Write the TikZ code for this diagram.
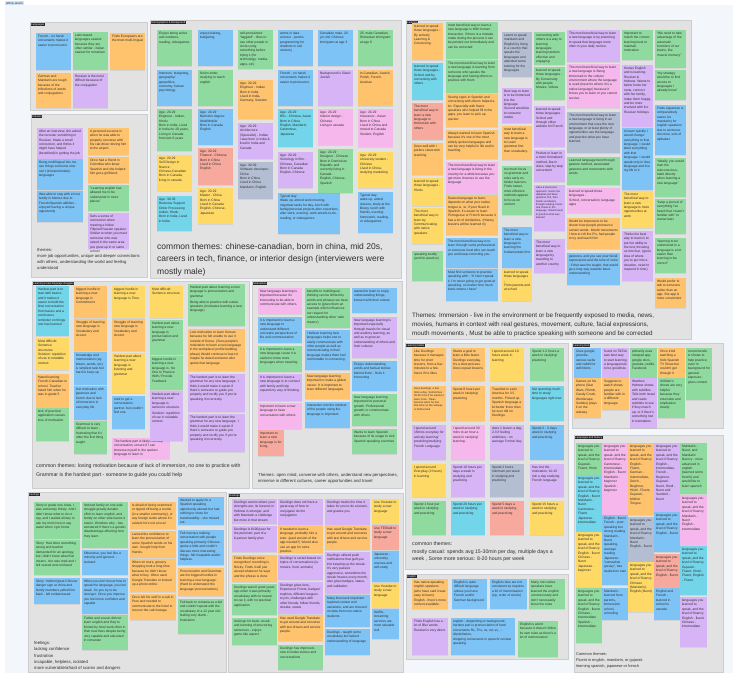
\documentclass[tikz,border=0pt]{standalone}
\usepackage{fontspec}
\setmainfont{Liberation Sans}
\usetikzlibrary{shadows}

\definecolor{nY}{HTML}{FFD966}
\definecolor{nO}{HTML}{FFC36E}
\definecolor{nG}{HTML}{8FDB9F}
\definecolor{nB}{HTML}{7EC3F6}
\definecolor{nP}{HTML}{D6B4F6}
\definecolor{nK}{HTML}{F6B8EC}
\definecolor{nC}{HTML}{72D5EA}
\definecolor{nS}{HTML}{F8A99D}
\definecolor{nR}{HTML}{B4BED3}
\definecolor{frameBG}{HTML}{E2E2E2}
\definecolor{frameLN}{HTML}{CDCDCD}
\definecolor{canvasBG}{HTML}{F3F6FA}
\definecolor{pillBG}{HTML}{CFE4FA}
\definecolor{inkC}{HTML}{2E2E2E}

\tikzset{
  sticky/.style={draw=none, inner sep=2pt, outer sep=0pt,
    font=\fontsize{3.3}{4.4}\selectfont, text=inkC,
    drop shadow={shadow xshift=0.2pt, shadow yshift=-0.5pt, opacity=0.15}},
  framebox/.style={fill=frameBG, draw=frameLN, line width=0.4pt, inner sep=0pt, outer sep=0pt},
  tagbox/.style={fill=black!85, text=white, font=\fontsize{2.6}{3}\selectfont, inner sep=0.6pt, anchor=north west},
  theme/.style={inner sep=0pt, align=left, text=inkC, anchor=north west},
}

% sticky note: name, x, y, width, height, colour, text
\newcommand\stk[7]{\node[sticky, fill=#6, minimum width=#4pt, minimum height=#5pt, anchor=north west] (#1) at (#2,#3)
  {\parbox[t][\dimexpr#5pt-4pt\relax][t]{\dimexpr#4pt-4pt\relax}{\raggedright #7}};}
% frame: name, x, y, width, height, tag
\newcommand\frm[6]{\node[framebox, minimum width=#4pt, minimum height=#5pt, anchor=north west] (#1) at (#2,#3) {};
  \node[tagbox] (#1-tag) at ([xshift=0.6pt,yshift=-0.6pt]#1.north west) {#6};}

\begin{document}
\begin{tikzpicture}[x=1pt,y=-1pt]
\useasboundingbox (0,0) rectangle (738,678);
\fill[white] (0,0) rectangle (738,678);
\fill[canvasBG] (5,5) rectangle (733,673);
\node[fill=pillBG, text=inkC, font=\fontsize{2.8}{3}\selectfont, inner sep=0.8pt, anchor=north west] (board) at (5,1) {affinity sketch};

% ---------------- frames ----------------
\frm{fLang}{30}{22}{117}{88}{Languages}
\frm{fCar}{31}{114}{116}{163}{Careers}
\frm{fDemo}{150}{20}{251}{258}{Demographics \& Background}
\frm{fLearn}{406}{20}{285}{319}{Learning}
\frm{fStr}{32}{281}{217}{207}{Learning a new language struggles}
\frm{fMot}{252}{281}{150}{207}{Motivations}
\frm{fTime}{405}{343}{163}{226}{Learning habits}
\frm{fEng}{406}{574}{162}{85}{English}
\frm{fTool}{572}{343}{151}{85}{Learning tools}
\frm{fFlu}{574}{435}{149}{237}{Languages and fluency}
\frm{fFeel}{28}{492}{198}{180}{Feelings}
\frm{fDuo}{228}{493}{175}{179}{Duolingo}

% ---------------- Languages ----------------
\stk{a1}{36}{33}{35}{37}{nB}{French - no harsh consonants makes it easier to pronounce}
\stk{a2}{73}{32}{35}{38}{nG}{Latin-based languages easiest because they are often similar - Italian easiest for romanian}
\stk{a3}{110}{33}{35}{37}{nO}{Finds Europeans are the most multi-lingual}
\stk{a4}{36}{73}{35}{35}{nO}{German and Mandarin are tough because of the inflections of words and conjugations}
\stk{a5}{73}{73}{35}{35}{nP}{Russian is the most difficult because of the conjugation}

% ---------------- Careers ----------------
\stk{b1}{37}{128}{46}{31}{nP}{After an interview, she asked the recruiter something in Russian. Made a small connection, and thinks it might have helped (benefited) in getting the job}
\stk{b2}{37}{159}{46}{31}{nB}{Being multilingual lets me see things someone else can't (interpret/relate) languages}
\stk{b3}{37}{191}{46}{31}{nB}{Was able to stay with a host family in Mexico due to French/Spanish abilities - enjoyed having a unique opportunity}
\stk{b4}{88}{128}{41}{27}{nO}{A personal success is when he was able to properly converse with his cab driver driving him to the airport.}
\stk{b5}{88}{157}{41}{26}{nO}{Once had a friend in Colombia who knew Spanish and she helped him get a girlfriend.}
\stk{b6}{88}{185}{41}{26}{nG}{``Learning english has allowed me to be understood in more places''}
\stk{b7}{88}{213}{41}{36}{nP}{Gets a sense of connection when meeting a fellow Filipino/Russian speaker. Similar to when you meet someone who was raised in the same area you grew up in or same school}
\node[theme, font=\fontsize{4.2}{6}\selectfont] (bTh) at (37,248) {themes:\\more job opportunities, unique and deeper connections\\with others, understanding the world and feeling\\understood};

% ---------------- Demographics & Background ----------------
\stk{c11}{157}{30}{35}{36}{nG}{Enjoys being active and outdoors, reading, videogames}
\stk{c12}{157}{70}{35}{36}{nB}{Interests: budgeting, geography/ geopolitics, economy, human psychology}
\stk{c13}{157}{109}{35}{42}{nG}{Age: 20-29\\Engineer - Indian, Hindu\\Born in India, Lived in India for 20 years, Living in Canada from last 8 years}
\stk{c14}{157}{155}{35}{36}{nY}{Age: 20-29\\Self Design in finance\\Chinese-Canadian\\Born in Canada, living in canada}
\stk{c15}{157}{196}{35}{35}{nC}{Age: 30-39\\Business Support Order Processing\\Indian, Hindu\\Born in India, Lived in India}
\stk{c21}{198}{30}{35}{36}{nB}{enjoys baking, budgeting,}
\stk{c22}{198}{70}{35}{36}{nG}{fiction writer, studying to teach english}
\stk{c23}{198}{109}{35}{36}{nB}{Age: 20-29\\Bachelor degree: Web/Mobile\\Born in Canada\\English}
\stk{c24}{198}{148}{35}{37}{nS}{Age: 20-29\\Finance - Chinese\\Born in China\\Lived in China\\English}
\stk{c25}{198}{188}{35}{36}{nY}{Age: 20-29\\Master - China\\Born in China\\Lived in Canada\\English, Chinese, Japanese}
\stk{c31}{238}{30}{35}{39}{nG}{self-proclaimed ``laggard'' - likes to see other people in circle using something before trying it (for technology: media, apps, etc)}
\stk{c32}{238}{80}{35}{39}{nO}{Age: 20-29\\Engineer - Indian\\Born in India\\Lived in India, Germany, Sweden}
\stk{c33}{238}{123}{35}{36}{nP}{Age: 20-29\\Architecture (Specialist) - Indian\\I was born in India \& lived in India and Canada}
\stk{c34}{238}{162}{35}{37}{nR}{Age: 30-39\\Software developer - China\\Born in China\\Lived in China\\Mandarin, English}
\stk{c41}{278}{30}{35}{36}{nB}{works in data science - (works programming for chatbots in call centers)}
\stk{c42}{278}{70}{35}{36}{nB}{French - no harsh consonants makes it easier to pronounce}
\stk{c43}{278}{109}{35}{38}{nC}{Age: 20-29\\BSc - Chinese, Asian\\Born in China\\English, Mandarin, Cantonese, Japanese}
\stk{c44}{278}{152}{35}{36}{nP}{Age: 20-29\\Sociology in film - Chinese, Canadian\\Born in Canada\\English, Chinese}
\stk{c45}{278}{193}{62}{41}{nB}{Typical day:\\Wake up, attend work meeting, negotiate tasks for day, lunch with family/personal projects after coworkers after work, evening: work emails to-do, reading, or videogames}
\stk{c51}{318}{30}{35}{36}{nB}{Canadian male, 20 y/o old, Chinese immigrant at age 3}
\stk{c52}{318}{70}{35}{36}{nP}{Background is Slavic Jewish}
\stk{c53}{318}{109}{35}{36}{nK}{Age: 20-29\\Interior design - Chinese\\Living in canada}
\stk{c54}{318}{149}{35}{44}{nG}{Age: 20-29\\Designer - Chinese\\Born in Dominican Republic and currently living in Canada.\\English, Chinese, Spanish}
\stk{c61}{358}{30}{35}{36}{nG}{25, male Canadian, Romanian immigrant at age 6}
\stk{c62}{358}{70}{35}{36}{nO}{In Canadian, Jewish, Polish, French, Austrian}
\stk{c63}{358}{109}{35}{38}{nK}{Age: 20-29\\Insurance - Asian\\Born in China\\Lived in China and moved to Canada\\Student, English}
\stk{c64}{358}{152}{35}{36}{nY}{Age: 20-29\\University student - Chinese\\Lived in China, studying marketing}
\stk{c65}{358}{192}{35}{41}{nB}{Typical day:\\wake up, attend classes, study at the library, lunch with friends, evening: homework, reading, or videogames}
\node[theme, font=\fontsize{8.5}{12.6}\selectfont] (cTh) at (157,243) {common themes: chinese-canadian, born in china, mid 20s,\\careers in tech, finance, or interior design (interviewers were\\mostly male)};

% ---------------- Learning ----------------
\stk{d11}{412}{23}{31}{37}{nO}{learned to speak those languages -\\By actively Learning \& Conversing.}
\stk{d12}{412}{63}{31}{37}{nC}{learned to speak those languages -\\School and by conversing with others}
\stk{d13}{412}{103}{31}{37}{nS}{The most beneficial way to learn a new language is immersion with others}
\stk{d14}{412}{143}{31}{32}{nO}{Does well with / prefers classroom teaching}
\stk{d15}{412}{178}{31}{28}{nY}{learned to speak those languages -\\Hindu}
\stk{d16}{412}{208}{31}{36}{nY}{The most beneficial way to learn by Communicating with native speakers.}
\stk{d17}{412}{251}{31}{30}{nG}{speaking buddy (and for practice)}
\stk{d21}{446}{22}{52}{37}{nG}{most beneficial way to learn a new language is With human interaction, if there is a mistake made during the process it can be pointed out immediately and can be corrected}
\stk{d22}{446}{60}{52}{33}{nG}{The most beneficial way to learn a new language is learning from someone who speaks the language and having others to practice with them}
\stk{d23}{446}{94}{52}{33}{nO}{Seeing signs in Spanish and conversing with others helped a lot. Especially with fluent speakers who helped fill in the gaps, you learn to pick up quicker.}
\stk{d24}{446}{130}{52}{29}{nO}{Always wanted to learn Spanish because it's one of the most widely spoken languages and can be very helpful in life and in traveling}
\stk{d25}{446}{162}{52}{32}{nK}{The most beneficial way to learn a new language is living in the country for a while because you get more chances to use the language}
\stk{d26}{446}{195}{52}{40}{nO}{Easiest language to learn, depends on what your native tongue is. Ie, if your fluent in Spanish, it's easier to learn Portuguese or French because it has a lot of similarities. (History lessons will be learned in)}
\stk{d27}{446}{238}{52}{30}{nB}{The most beneficial way is to learn through some professional or someone local who can teach you and keep correcting you.}
\stk{d28}{446}{269}{52}{32}{nB}{Must find someone to practice speaking with - ``If I don't speak it, I'm never going to get good at speaking, no matter how much book-smarts I have''}
\stk{d31}{502}{32}{30}{45}{nR}{Learnt to speak mandarin and English by living in a country that speaks the languages and attended some tutoring for the languages}
\stk{d32}{502}{88}{30}{35}{nP}{Best way to learn is to be immersed into the language. Second would be to consume media}
\stk{d33}{502}{126}{30}{34}{nO}{most beneficial way to learn a new language is to Learn grammar first then vocabulary.}
\stk{d34}{502}{166}{30}{49}{nG}{too much focus on grammar and rules early on hinder learners. Finds newer, more effective methods appear to focus on content}
\stk{d35}{502}{227}{30}{41}{nB}{The most beneficial way to learn a new language is learning the fundamentals first}
\stk{d36}{502}{269}{30}{32}{nY}{learned to speak those languages -\\From parents and at school}
\stk{d41}{534}{32}{31}{33}{nG}{connecting with others is a way to learning languages; learning tandem effective and engaging}
\stk{d42}{534}{67}{31}{33}{nG}{learned to speak those languages -\\By Conversing with people, Movies, Videos}
\stk{d43}{534}{106}{31}{41}{nP}{learned to speak those languages -\\School and through video website for French}
\stk{d44}{534}{150}{31}{32}{nP}{Prefers to learn in a more formalized method, like in class, step by step convenient}
\stk{d45}{534}{185}{31}{46}{nP}{\fontsize{2.6}{3.3}\selectfont Likes a structured approach: learns the alphabet and basic grammar first, then builds vocabulary through reading, music and shows in the language. Would travel to practice what was learned.}
\stk{d46}{534}{239}{31}{34}{nP}{The most beneficial way to learn a new language by travelling to another country}
\stk{d51}{567}{30}{53}{32}{nP}{The most beneficial way to learn a new language is by practicing to speak that language more often in your daily routine.}
\stk{d52}{567}{64}{53}{44}{nK}{The most beneficial way to learn a new language is Being immersed in the culture/ environment where the language is used (travel to where it is a native language) because it forces you to learn or you cannot survive}
\stk{d53}{567}{112}{53}{41}{nR}{The most beneficial way to learn a new language is living in an environment that uses the new language, or at least plenty of opportunities use the language and practice what you have learned.}
\stk{d54}{567}{157}{53}{28}{nG}{Learned language best through gesture method, associated gestures and movements with words}
\stk{d55}{567}{188}{53}{25}{nK}{learned to speak those languages -\\School, conversation, language apps}
\stk{d56}{567}{218}{53}{31}{nO}{Would be impressive to be shown how people pronounce certain words. Mouth movements / how to roll the R's, had people to try and teach him}
\stk{d57}{567}{253}{53}{32}{nB}{gestures, and you see your facial expressions and the tone of voice - if that was the taught, that would go a long way towards basic understanding}
\stk{d61}{622}{30}{31}{30}{nG}{Important to match the correct learning level to maintain motivation}
\stk{d62}{622}{65}{31}{62}{nP}{Knows English and is learning Russian \& Hebrew. Wants to better know her roots, connect with her family, make them happy, and be more involved with the Russian holidays}
\stk{d63}{622}{128}{31}{62}{nB}{to learn quickly I would change everything to that language. I would label everything with that language. I would speak only in that language and live my life in it.}
\stk{d64}{622}{191}{31}{37}{nY}{The most beneficial way to learn a new language is more opportunities at work}
\stk{d65}{622}{231}{31}{50}{nP}{Thinks the best way to learn is to put her ability to the test, throwing us into fear. (gives idea of where you're put into a situation, need to respond in time)}
\stk{d71}{655}{30}{31}{38}{nG}{``We need to take advantage of the automatic functions of our brains, like muscle memory''}
\stk{d72}{655}{70}{31}{30}{nG}{``my strategy would be to find access to languages I already know''}
\stk{d73}{655}{105}{31}{50}{nB}{Finds Japanese is comparatively easier (vs mandarin) for english speakers due to sentence structure, sort-of alphabet}
\stk{d74}{655}{158}{31}{39}{nG}{``Ideally, you would train the subconscious; habit directly when learning a new language''}
\stk{d75}{655}{199}{31}{35}{nG}{``keep a journal of everything I've heard that I wasn't familiar with'' to review later}
\stk{d76}{655}{238}{31}{35}{nG}{``learning to be understood in a language is a lot easier than learning to be correct''}
\stk{d77}{655}{278}{31}{30}{nO}{Would prefer to talk to someone rather than an app. But app is more convenient}
\node[theme, font=\fontsize{6.3}{9.2}\selectfont] (dTh) at (412,312.5) {Themes: Immersion - live in the environment or be frequently exposed to media, news,\\movies, humans in context with real gestures, movement, culture, facial expressions,\\mouth movements , Must be able to practice speaking with someone and be corrected};

% ---------------- Struggles ----------------
\stk{e11}{36}{286}{33}{50}{nC}{Hardest part is to start with basics and it makes it easier to build the final conversation from basics and a continuous reminder on things one has learned}
\stk{e12}{36}{338}{33}{32}{nY}{Most difficult: Sentence structures. Solution: repetition of use in relatable context.}
\stk{e13}{36}{374}{33}{34}{nO}{Hated learning French-Canadian in school. Teacher hated him when he was in grade 5}
\stk{e14}{36}{408}{33}{33}{nG}{lack of practical application causes loss of motivation}
\stk{e21}{74}{286}{33}{32}{nO}{biggest hurdle in learning a new language is Commitment.}
\stk{e22}{74}{319}{33}{32}{nO}{Struggle of learning new language is Vocabulary and Accent.}
\stk{e23}{74}{352}{33}{33}{nB}{Knowledge and memorization (eg. letters, words, etc) is simplest task but hard to keep up}
\stk{e24}{74}{386}{33}{34}{nB}{lost motivation with japanese and french due to lack of immersion in everyday life}
\stk{e25}{74}{421}{33}{33}{nG}{Grammar is very difficult to learn - frustrating that it's often the first thing taught}
\stk{e31}{112}{286}{33}{32}{nY}{biggest hurdle in learning a new language is Time.}
\stk{e32}{112}{319}{33}{32}{nO}{Struggle of learning new language is Vocabulary and Accent.}
\stk{e33}{112}{353}{33}{40}{nY}{Hardest part about learning a new language is listening and grammar}
\stk{e34}{112}{396}{33}{33}{nB}{tried to get a conversation partner, but couldn't find one}
\stk{e35}{112}{438}{58}{21}{nK}{The hardest part is likely normally conversation, unsure if I can immerse myself in the spoken language to learn in}
\stk{e41}{150}{286}{33}{32}{nY}{Most difficult: Sentence structure.}
\stk{e42}{150}{320}{33}{35}{nG}{Hardest part about learning a new language is pronunciation and grammar}
\stk{e43}{150}{356}{33}{34}{nG}{biggest hurdle in learning a new language is: No One to Practice With / Provide Feedback}
\stk{e44}{150}{391}{33}{50}{nP}{Hardest part about learning a new language is sentence structure.\\[1pt]Solution: repetition of use in relatable context.}
\stk{e51}{188}{284}{57}{42}{nG}{Hardest part about learning a new language is pronunciation and grammar\\[1.5pt]Being able to practice with native speakers (motivates learning a new language)}
\stk{e52}{188}{329}{57}{42}{nO}{Lost motivation to learn Korean because he felt unable to use it outside of Korea. (Sees people's motivation to learn a new language in the workplace/ profile building phase) Would continue to learn it maybe he dated someone who spoke that language}
\stk{e53}{188}{374}{57}{38}{nP}{The hardest part is to learn the grammar for any new language. I think it would make it easier if there's someone to guide you properly and rectify you if you're speaking it incorrectly.}
\stk{e54}{188}{414}{57}{38}{nP}{The hardest part is to learn the grammar for any new language. I think it would make it easier if there's someone to guide you properly and rectify you if you're speaking it incorrectly.}
\node[theme, font=\fontsize{5.2}{8.8}\selectfont] (eTh) at (36,463.5) {common themes: losing motivation because of lack of immersion, no one to practice with\\Grammar is the hardest part - someone to guide you could help};

% ---------------- Motivations ----------------
\stk{f11}{258}{288}{44}{26}{nK}{New language learning is important because it's interesting to be able to communicate with others.}
\stk{f12}{258}{317}{44}{26}{nB}{It is important to learn a new language to understand different concepts/ perspectives of life and communication}
\stk{f13}{258}{346}{44}{26}{nG}{It is important to learn a new language cause it is useful to know more languages when traveling}
\stk{f14}{258}{374}{44}{27}{nP}{It is important to learn a new language is to connect with family and help expand my way of thinking}
\stk{f15}{258}{403}{44}{26}{nK}{Important to learn a new language to have conversation with others}
\stk{f16}{258}{430}{26}{26}{nS}{Important to learn a new language is for living.}
\stk{f21}{305}{288}{45}{40}{nG}{benefits to multilingual - thinking can be limited by words and phrases we have access to (gives them an example which influences our respect for understanding other `safe means')}
\stk{f22}{305}{330}{45}{40}{nB}{I believe learning new languages helps one to easily communicate with other people as well as communicating in their language makes them feel comfortable in connecting.}
\stk{f23}{305}{373}{45}{26}{nO}{New language learning important to make a global career. It is important to learn different languages.}
\stk{f24}{305}{402}{45}{26}{nB}{Interaction into the mindset of the people using the language is important}
\stk{f31}{352}{288}{45}{25}{nB}{wanted to learn to enjoy understanding things, interact with their culture}
\stk{f32}{352}{317}{45}{41}{nP}{New language learning is important especially through travels for visual and auditory learning, as well as to grow an understanding of others and their cultures}
\stk{f33}{352}{361}{45}{30}{nB}{Enjoys understanding words and factual stories behind them - finds it interesting}
\stk{f34}{352}{394}{45}{32}{nG}{New language learning important for personal growth. Professional growth, to communicate with others}
\stk{f35}{352}{429}{45}{25}{nG}{Wants to learn Spanish because of its usage to visit Spanish speaking countries}
\node[theme, font=\fontsize{4.3}{6.2}\selectfont] (fTh) at (258,473) {Themes: open mind, converse with others, understand new perspectives,\\immerse in different cultures, career opportunities and travel};

% ---------------- Learning habits ----------------
\stk{g11}{412}{348}{34}{33}{nO}{Like Duolingo because it manages time for short lessons, from a few minutes to a few hours if he likes}
\stk{g12}{412}{386}{34}{35}{nO}{\fontsize{2.7}{3.4}\selectfont Uses duolingo, a few mins a day. Sometimes 30-60 mins if he wants to learn more. Takes lessons when he has free time on the subway or before bed}
\stk{g13}{412}{425}{34}{35}{nP}{I spend around 15mins everyday for actively learning/ practicing/studying French Language}
\stk{g14}{412}{464}{34}{33}{nY}{I spend around Everyday (2 hours) in learning}
\stk{g15}{412}{501}{34}{34}{nG}{Spend 1 hour per week in studying and practicing}
\stk{g21}{451}{348}{34}{33}{nO}{Wants a goal to learn a little faster. Duolingo everyday. It's a slow process. Does repeat lessons}
\stk{g22}{451}{386}{34}{35}{nO}{Spend 8 hours per week in studying/ practicing}
\stk{g23}{451}{425}{34}{35}{nK}{I spend around 30 mins to an hour a week in studying/ learning.}
\stk{g24}{451}{464}{34}{33}{nP}{Spend 10 hours per days a week in studying and practicing}
\stk{g25}{451}{501}{34}{34}{nC}{Spend 20 hours per week in studying and practicing}
\stk{g31}{490}{348}{34}{33}{nY}{I spend around 10 hours week in learning}
\stk{g32}{490}{386}{34}{35}{nO}{Travelled in Latin America for 3.5 months. Picked up Spanish language a lot better there than he ever did on Duolingo.}
\stk{g33}{490}{425}{34}{35}{nP}{does 1 lesson a day, 2-3 if feeling ambitious - on average 5 mins/ day}
\stk{g34}{490}{464}{34}{33}{nR}{Spend 2 hours minimum per week in studying and practicing}
\stk{g35}{490}{501}{34}{34}{nS}{Spend 5 days a week in studying and practicing}
\stk{g41}{530}{348}{34}{33}{nG}{Spend 1-2 hours a week in studying/ practicing}
\stk{g42}{530}{386}{34}{35}{nC}{Not spending much time to study languages right now}
\stk{g43}{530}{425}{34}{35}{nB}{Spend 2 - 3 days week in studying and practicing}
\stk{g44}{530}{464}{34}{33}{nP}{Has lost the motivation; 10-15 min a day studying French language}
\stk{g45}{530}{501}{34}{34}{nY}{Spend 15 hours a week in studying and practicing}
\node[theme, font=\fontsize{5.2}{7.6}\selectfont] (gTh) at (412,541.5) {common themes:\\mostly casual: spends avg 15-30min per day, multiple days a\\week , Some more serious: 8-20 hours per week};

% ---------------- English ----------------
\stk{h1}{412}{579}{36}{30}{nO}{Has native-speaking english speakers (who have said it was easy to learn). English - there's more content available.}
\stk{h2}{452}{579}{35}{30}{nB}{English is quite difficult language unless you have French and/or German background}
\stk{h3}{490}{579}{37}{30}{nB}{English rules are not consistent so requires a lot of memorization (eg. order of words)}
\stk{h4}{529}{579}{36}{30}{nG}{Many non-native speakers have learned the english unconsciously and don't necessarily know the rules}
\stk{h5}{412}{618}{36}{37}{nP}{Finds English has a lot of filler words. Russian is very direct.}
\stk{h6}{451}{618}{64}{37}{nB}{english - depending on background, hardest part is pronunciation of hard consonants Rs, Ths, ss, ed, ss, ... dissimilation,\\dropping consonants in speech/ unclear speaking}
\stk{h7}{518}{621}{40}{36}{nG}{English is weird because it doesn't follow its own rules as there's a lot of memorization}

% ---------------- Learning tools ----------------
\stk{i11}{574}{348}{27}{30}{nB}{Uses google, youtube, various webs and reddit for definitions}
\stk{i12}{574}{378}{27}{40}{nO}{Games on his phone (Star Wars, Pikmin, Candy Crush, Wordscape, Sudoku) plays it on the subway}
\stk{i21}{602}{348}{27}{30}{nP}{found on TikTok was best way to start learning a language/rule to be good/rule}
\stk{i22}{602}{378}{27}{32}{nO}{Suggests to watch shows people are familiar with in a different language.}
\stk{i31}{630}{348}{27}{30}{nG}{primarily uses notepad app, google docs, youtube, reddit, Facebook}
\stk{i32}{630}{378}{27}{50}{nP}{Watches Hebrew shows with subtitles. Tells both Israel and reads subtitles to see if they match up, or if there's something lost in translation}
\stk{i41}{658}{348}{27}{30}{nO}{Once tried watching a Kids Spanish TV Show but couldn't get through it}
\stk{i42}{658}{378}{27}{40}{nG}{children's shows are very helpful because they enunciate and emphasize clearly}
\stk{i51}{686}{348}{26}{52}{nG}{recommends tv shows to help practice; even in background for general exposure - gives context}

% ---------------- Languages and fluency ----------------
\stk{j11}{576}{443}{26}{32}{nG}{languages you learned to speak, and the level of fluency\\Gujarati - Fluent, Hindi}
\stk{j12}{576}{475}{26}{57}{nC}{languages you learned to speak, and the level of fluency\\English - fluent\\Mandarin - fluent\\Cantonese - Fluent\\Japanese - intermediate}
\stk{j13}{576}{532}{26}{55}{nY}{languages you learned to speak, and the level of fluency\\English - fluent\\Chinese - fluent\\Japanese - beginner}
\stk{j14}{576}{588}{26}{55}{nG}{languages you learned to speak, and the level of fluency\\English - fluent\\Chinese - intermediate\\Spanish - intermediate}
\stk{j21}{602}{443}{26}{72}{nK}{languages you learned to speak, and the level of fluency\\Cantonese - intermediate\\English - fluent\\Mandarin - beginner\\Spanish - beginner}
\stk{j22}{602}{515}{26}{70}{nB}{English - fluent\\French - poor speaking but strong reading\\Mandarin - fluent speaking, average reading\\Japanese - ``somewhat greasy'', has studied on own}
\stk{j23}{602}{588}{26}{32}{nB}{Mandarin - learned from parents, immersion/ school, schooling}
\stk{j31}{628}{443}{26}{72}{nO}{languages you learned to speak, and the level of fluency\\English - Fluent, German - Intermediate, Dutch - Beginner, Hindi - Fluent, Gujarati - Mother Tongue.}
\stk{j32}{628}{517}{26}{45}{nR}{languages you learned to speak, and the level of fluency\\Mandarin - fluent\\English - fluent}
\stk{j33}{628}{562}{26}{50}{nY}{languages you learned to speak, and the level of fluency\\Chinese (Mandarin), English (fluent)}
\stk{j41}{654}{443}{26}{69}{nP}{languages you learned to speak, and the level of fluency\\English - intermediate, French - Beginner, Gujarati - fluent, Hindi - fluent and Sanskrit - fluent}
\stk{j42}{654}{512}{26}{40}{nB}{languages you learned to speak, and the level of fluency\\English - fluent}
\stk{j43}{654}{554}{26}{34}{nS}{languages you learned to speak, and the level of fluency\\English - fluent}
\stk{j44}{654}{588}{26}{32}{nB}{English and French - learned in school in canada}
\stk{j51}{680}{443}{27}{51}{nG}{Mandarin - fluent, and Mandarin fluency - more advanced in english (learned some french) and would like to learn spanish}
\stk{j52}{680}{495}{27}{50}{nK}{languages you learned to speak, and the level of fluency\\Mandarin - fluent\\English - intermediate}
\stk{j53}{680}{546}{27}{49}{nC}{languages you learned to speak, and the level of fluency\\Gujarati - Fluent, Hindi - Fluent, English - Fluent}
\stk{j54}{680}{597}{27}{50}{nP}{languages you learned to speak, and the level of fluency\\English - fluent\\Chinese - intermediate}
\node[theme, font=\fontsize{3.9}{6.4}\selectfont] (jTh) at (576,652) {Common themes:\\Fluent in english, mandarin, or gujarati\\learning spanish, japanese or french};

% ---------------- Feelings ----------------
\stk{k11}{34}{502}{46}{37}{nG}{Story in grade one class, I was extremely thirsty. And I didn't know what to do or say, and I waited all day to ask my mom how to say water when I got home}
\stk{k12}{34}{540}{46}{35}{nG}{Story: Had done something wrong and teacher demanded for an apology, but I didn't know what that means. she was mad and I felt scared and confused}
\stk{k13}{34}{578}{46}{26}{nB}{Story: mother/great Chinese danger sign at china and family members yelled him back - felt embarrassed}
\stk{k21}{82}{502}{46}{46}{nG}{Noticed family on one side struggle greatly despite effort to learn english, and family on other side learns it easier. Wonders why - has wondered if there's a genetic disadvantage affecting how they learn.}
\stk{k22}{82}{550}{46}{25}{nB}{Otherwise, you feel like a minority and ignored. - isolated}
\stk{k23}{82}{578}{46}{36}{nB}{When you don't know how to speak the language, you feel weak. So you try to be stronger. Once you improve you feel more confident and capable}
\stk{k24}{82}{615}{46}{35}{nG}{Father and cousin did not learn english and they're limited by how/ work often in their new lives despite being very capable and educated in romanian}
\stk{k31}{130}{502}{46}{27}{nO}{Is afraid of being scammed or ripped off being a tourist (in a smaller community), or any foreign lands where it's evident he's not a local}
\stk{k32}{130}{531}{46}{27}{nO}{Lacked the confidence to learn the pronunciation of some Spanish words on his own. Sought help from friends.}
\stk{k33}{130}{559}{46}{33}{nO}{When on tours, grocery shopping took a long time because he didn't know what to buy. Often used Google Translate or looked up a photo online.}
\stk{k34}{130}{594}{46}{26}{nO}{Once left his stuff in a cab in Peru and needed to communicate to the hotel to recover the cab footage.}
\stk{k41}{178}{497}{46}{28}{nB}{Wanted to apply for a Spanish speaking opportunity abroad but had nothing to show for transferability - she missed out.}
\stk{k42}{178}{530}{46}{35}{nB}{Felt nervous making conversation with people speaking primarily Chinese - spoke a little and couldn't discuss more interesting things. felt incapable and/or helpless.}
\stk{k43}{178}{568}{46}{28}{nO}{Pronunciation and Grammar are the biggest hurdles in learning a new language. (Hard to understand the language/ pronunciations)}
\stk{k44}{178}{599}{46}{35}{nG}{Felt back to romania as a kid and couldn't speak with the vocabulary of a 12 year old - feeling very dumb - frustration}
\node[theme, font=\fontsize{4.3}{6.1}\selectfont] (kTh) at (34,641.5) {feelings:\\lacking confidence\\frustration\\incapable, helpless, isolated\\more vulnerable/afraid of scams and dangers};

% ---------------- Duolingo ----------------
\stk{l11}{232}{499}{45}{25}{nP}{Duolingo seems where your strengths are; its lessons in Hebrew is stronger, and with Mandarin a challenge but more in that stream}
\stk{l12}{232}{526}{45}{26}{nP}{Duolingo is \$100/year for the premium; part of a 6-person family plan}
\stk{l13}{232}{555}{45}{27}{nO}{Finds Duolingo voice recognition/ recording is finicky. Finds it will just accept whatever he says and the phrase is done}
\stk{l14}{232}{584}{45}{31}{nG}{Duolingo wasn't good years ago when it was primarily vocabulary with no reason to use it, with no practical application}
\stk{l15}{232}{618}{45}{27}{nG}{duolingo for basic vocab and learning of structuring sentences - enjoys game-like aspect}
\stk{l21}{278}{499}{45}{26}{nP}{Duolingo does not have a great way of how to conjugate/ do the conjugation}
\stk{l22}{278}{526}{45}{27}{nO}{If needed to learn a language, probably hire a tutor. (paid version of the app needed?) Would also use an app for extra practice.}
\stk{l23}{278}{555}{45}{25}{nP}{Duolingo is sorted based on topics of conversations (ie. movies, food, animals)}
\stk{l24}{278}{582}{45}{32}{nP}{Duolingo gives tiers, Experience Points, badges/ trophies, different leagues to join, challenges with other friends, follow friends, streaks, status}
\stk{l25}{278}{615}{45}{26}{nO}{Has used Google Translate to get around and converse with taxi drivers and service people.}
\stk{l26}{278}{645}{45}{25}{nG}{Duolingo has improved - now includes stories and conversations}
\stk{l31}{325}{499}{45}{26}{nP}{Duolingo tracks the time it takes for you to do a lesson, and grades you}
\stk{l32}{325}{526}{45}{24}{nO}{Has used Google Translate to get around and converse with taxi drivers and service people.}
\stk{l33}{325}{552}{45}{42}{nP}{Duolingo utilized push notifications that guilt you into keeping up the streak. It's very passive aggressive, sometimes the streak freezes every month, also gives badges, status, and validation.}
\stk{l34}{325}{595}{45}{32}{nB}{Many lines lack important regional context and variations, and are focused on data from non-native students}
\stk{l35}{325}{629}{45}{26}{nB}{Duolingo - taught some vocabulary but lacked understanding of language}
\stk{l41}{372}{499}{27}{25}{nY}{Use Youtube to study a new language}
\stk{l42}{372}{525}{27}{25}{nS}{Use TEDtalk to study a new language}
\stk{l43}{372}{551}{27}{31}{nB}{Japanese - university courses and self-study}
\stk{l44}{372}{583}{27}{25}{nY}{Use Youtube to study a new language}
\stk{l45}{372}{609}{27}{30}{nB}{Netflix, streaming services are most valuable tool}
\end{tikzpicture}
\end{document}
